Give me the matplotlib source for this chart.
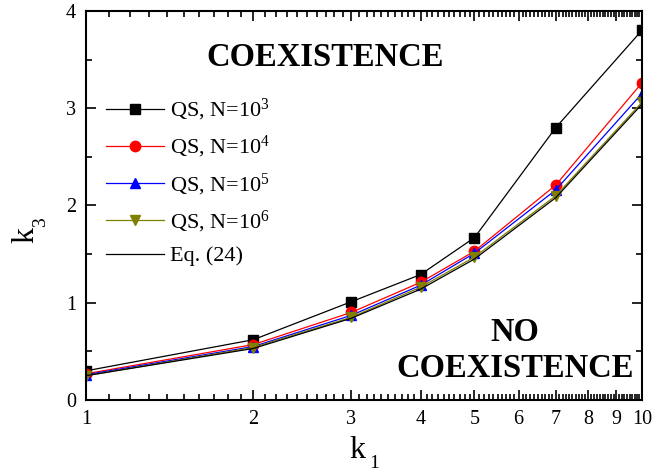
import numpy as np
import matplotlib
matplotlib.use('Agg')
import matplotlib.pyplot as plt
from matplotlib.ticker import FixedLocator, FixedFormatter, NullFormatter

plt.rcParams['font.family'] = 'Liberation Serif'
plt.rcParams['mathtext.fontset'] = 'custom'
plt.rcParams['mathtext.rm'] = 'Liberation Serif'
plt.rcParams['mathtext.it'] = 'Liberation Serif:italic'

# k1 values and k3 thresholds
k1 = [1, 2, 3, 4, 5, 7, 10]
qs_n3 = [0.30, 0.62, 1.01, 1.29, 1.67, 2.80, 3.80]
qs_n4 = [0.27, 0.57, 0.90, 1.21, 1.53, 2.21, 3.26]
qs_n5 = [0.26, 0.55, 0.87, 1.18, 1.51, 2.16, 3.15]
qs_n6 = [0.25, 0.54, 0.85, 1.16, 1.47, 2.10, 3.06]
eq24 = [0.25, 0.53, 0.84, 1.14, 1.45, 2.08, 3.04]

xticks = [1, 2, 3, 4, 5, 6, 7, 8, 9, 10]

fig = plt.figure(figsize=(6.55, 4.74), dpi=100)
ax = fig.add_axes([0.131, 0.156, 0.849, 0.821])

ax.plot(k1, qs_n3, '-s', color='black', lw=0.9, ms=7, label=r'QS, N=10$^{\mathregular{3}}$')
ax.plot(k1, qs_n4, '-o', color='red', lw=0.9, ms=7.5, label=r'QS, N=10$^{\mathregular{4}}$')
ax.plot(k1, qs_n5, '-^', color='blue', lw=0.9, ms=7.5, label=r'QS, N=10$^{\mathregular{5}}$')
ax.plot(k1, qs_n6, '-v', color='#808000', lw=0.9, ms=7.5, label=r'QS, N=10$^{\mathregular{6}}$')
ax.plot(k1, eq24, '-', color='black', lw=0.9, label='Eq. (24)')

ax.set_xscale('log')
ax.set_xlim(1, 10)
ax.set_ylim(0, 4)
ax.xaxis.set_major_locator(FixedLocator(xticks))
ax.xaxis.set_major_formatter(FixedFormatter([str(t) for t in xticks]))
ax.xaxis.set_minor_locator(FixedLocator(np.arange(1.1, 10, 0.1)))
ax.xaxis.set_minor_formatter(NullFormatter())
ax.set_yticks([0, 1, 2, 3, 4])
ax.set_yticks(np.arange(0.5, 4, 1.0), minor=True)

ax.tick_params(which='both', direction='in', top=True, right=True, labelsize=14.5, width=1.2)
ax.tick_params(which='major', length=7, pad=7)
ax.tick_params(which='minor', length=4)
for s in ax.spines.values():
    s.set_linewidth(1.5)

# axis labels: big letter with small, low subscript
fig.text(0.534, 0.034, 'k', fontsize=23, ha='left', va='baseline')
fig.text(0.563, 0.013, '1', fontsize=14, ha='left', va='baseline')
fig.text(0.0504, 0.487, 'k', fontsize=23, rotation=90, rotation_mode='anchor',
         ha='left', va='baseline')
fig.text(0.0687, 0.521, '3', fontsize=14, rotation=90, rotation_mode='anchor',
         ha='left', va='baseline')

ax.text(0.43, 0.879, 'COEXISTENCE', transform=ax.transAxes, fontsize=23.5,
        fontweight='bold', ha='center', va='center')
ax.text(0.772, 0.128, 'NO\nCOEXISTENCE', transform=ax.transAxes, fontsize=23.5,
        fontweight='bold', ha='center', va='center', linespacing=1.2)

ax.legend(loc='upper left', bbox_to_anchor=(0.0, 0.83), frameon=False, fontsize=16,
          handlelength=2.6, handletextpad=0.3, labelspacing=0.5, borderaxespad=0.5)

fig.savefig('out.png', dpi=100)
